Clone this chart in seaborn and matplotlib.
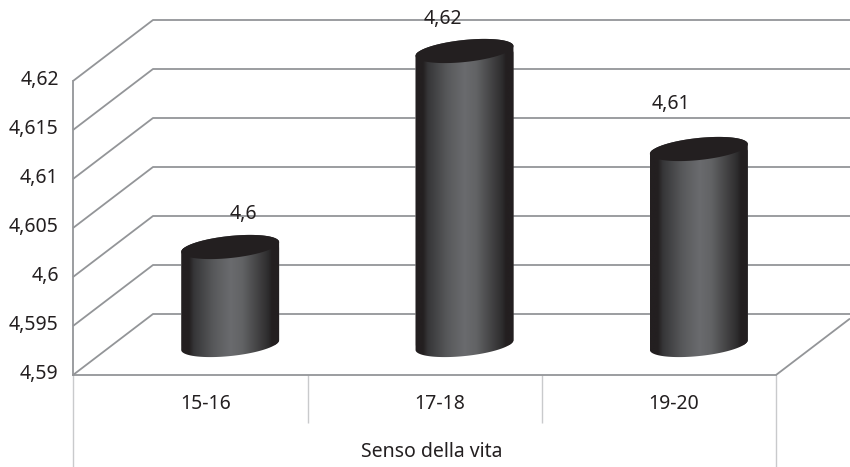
import numpy as np
import matplotlib
matplotlib.use("Agg")
import matplotlib.pyplot as plt
import seaborn as sns
from matplotlib.colors import LinearSegmentedColormap
from matplotlib.lines import Line2D
from matplotlib.path import Path
from matplotlib.transforms import Affine2D, IdentityTransform

age_groups = ["15-16", "17-18", "19-20"]
scores = [4.60, 4.62, 4.61]
y_ticks = [4.59, 4.595, 4.60, 4.605, 4.61, 4.615, 4.62]
y_tick_labels = ["4,59", "4,595", "4,6", "4,605", "4,61", "4,615", "4,62"]
axis_title = "Senso della vita"

sns.set_theme(style="white")
plt.rcParams["font.family"] = ["Noto Sans", "DejaVu Sans"]
plt.rcParams["font.weight"] = 500

W, H = 850, 467
GRID = "#939598"
THIN = "#c9cacc"
INK = "#231f20"
BODY = "#231f20"

# Front plane of the pseudo-3D box, in pixels from the top left
LEFT, RIGHT, TOP, BOTTOM = 73, 776, 81, 375
BACK_DX, BACK_DY = 80, 61      # offset of the back wall
BAR_DX, BAR_DY = 40, 30        # offset of the bars inside the box
TILT, SEMI_MINOR = 6, 11

fig = plt.figure(figsize=(W / 100, H / 100), dpi=100, facecolor="white")
ax = fig.add_axes([LEFT / W, 1 - BOTTOM / H, (RIGHT - LEFT) / W, (BOTTOM - TOP) / H])
ax.patch.set_alpha(0)

sns.barplot(x=age_groups, y=scores, color=BODY, width=0.42, saturation=1, ax=ax, zorder=3)
ax.set_ylim(y_ticks[0], y_ticks[-1])
ax.set_xlim(-0.5, len(age_groups) - 0.5)

ax.set_yticks(y_ticks, y_tick_labels)
ax.set_xticks(range(len(age_groups)), age_groups)
ax.tick_params(axis="y", length=4.3, width=1, color="#a7a9ac", pad=6,
               labelsize=14, labelcolor=INK)
ax.tick_params(axis="x", length=0, pad=14, labelsize=14, labelcolor=INK)
for label in ax.get_yticklabels():
    label.set_transform(label.get_transform() + Affine2D().translate(0, 3))
for label in ax.get_xticklabels():
    label.set_transform(label.get_transform() + Affine2D().translate(15, 0))

for name in ("top", "right"):
    ax.spines[name].set_visible(False)
for name in ("left", "bottom"):
    ax.spines[name].set_color(GRID)
    ax.spines[name].set_linewidth(1.3)

ax.set_xlabel(axis_title, fontsize=14, color=INK)
ax.xaxis.set_label_coords((432 - LEFT) / (RIGHT - LEFT), (BOTTOM - 442) / (BOTTOM - TOP))


def display_line(xs, ys, color=GRID, lw=1.3, zorder=1):
    ax.add_line(Line2D(xs, ys, color=color, lw=lw, transform=IdentityTransform(),
                       clip_on=False, zorder=zorder, solid_capstyle="butt"))


# Walls, floor and the drop lines under the category axis
for tick in y_ticks:
    x0, y0 = ax.transData.transform((-0.5, tick))
    display_line([x0, x0 + BACK_DX, W], [y0, y0 + BACK_DY, y0 + BACK_DY])
x1, y1 = ax.transData.transform((len(age_groups) - 0.5, y_ticks[0]))
display_line([x1, W], [y1, y1 + (W - x1) * BACK_DY / BACK_DX])
for boundary, depth in zip(np.arange(len(age_groups) + 1) - 0.5, (92, 48, 48, 92)):
    xb, yb = ax.transData.transform((boundary, y_ticks[0]))
    display_line([xb + 0.5, xb + 0.5], [yb, yb - depth], color=THIN, lw=1)

# Cylinder shading: dark rims with a lighter band near the middle
shade = LinearSegmentedColormap.from_list("cylinder", [
    (0.0, BODY), (0.08, BODY), (0.13, "#363638"), (0.33, "#58595b"),
    (0.50, "#6a6b6e"), (0.62, "#626365"), (0.88, "#2e2d2e"), (0.92, BODY), (1.0, BODY)])
ramp = np.linspace(0, 1, 256).reshape(1, -1)


def ellipse_points(cx, cy, a, start, stop, n=80):
    t = np.radians(np.linspace(start, stop, n))
    pts = np.column_stack([a * np.cos(t), SEMI_MINOR * np.sin(t)])
    return Affine2D().rotate_deg(TILT).translate(cx, cy).transform(pts)


# Each bar keeps its height from the data; the shifted rectangle is clipped to a cylinder
for bar, value in zip(ax.patches, scores):
    centre = bar.get_x() + bar.get_width() / 2
    half = (ax.transData.transform((bar.get_width(), 0))[0]
            - ax.transData.transform((0, 0))[0]) / 2
    bx, by = ax.transData.transform((centre, y_ticks[0]))
    tx, ty = ax.transData.transform((centre, value))
    bx, by, tx, ty = bx + BAR_DX, by + BAR_DY, tx + BAR_DX, ty + BAR_DY

    lower = ellipse_points(bx, by, half, 180, 360)
    body_path = Path(np.vstack([lower, ellipse_points(tx, ty, half, 0, 180)]))
    body_path = Path(np.vstack([body_path.vertices, lower[:1]]), closed=True)

    bar.set_y(y_ticks[0])
    bar.set_height(value - y_ticks[0])
    bar.set_transform(ax.transData + Affine2D().translate(BAR_DX, BAR_DY))
    bar.set_clip_box(fig.bbox)
    bar.set_clip_path(body_path, IdentityTransform())

    image = ax.imshow(ramp, cmap=shade, aspect="auto", zorder=4, interpolation="bilinear",
                      extent=(bx - half, bx + half, by - 20, ty + 20),
                      transform=IdentityTransform())
    image.set_clip_box(fig.bbox)
    image.set_clip_path(body_path, IdentityTransform())

    top_cap = ellipse_points(tx, ty, half, 0, 360, 160)
    ax.fill(top_cap[:, 0], top_cap[:, 1], color=BODY, lw=0, zorder=5,
            transform=IdentityTransform(), clip_on=False)

ax.set_ylim(y_ticks[0], y_ticks[-1])
ax.set_xlim(-0.5, len(age_groups) - 0.5)

# Value labels sit above each cylinder
label_nudges = [(13, 33), (-22, 32), (-28, 45)]
for i, (value, (dx, dy)) in enumerate(zip(scores, label_nudges)):
    ax.annotate(f"{value:g}".replace(".", ","), xy=(i, value), xycoords="data",
                xytext=(BAR_DX + dx, BAR_DY + dy), textcoords=("offset pixels"),
                ha="center", va="center", fontsize=14, color=INK, annotation_clip=False, zorder=6)

fig.savefig("out.png", dpi=100, facecolor="white")
